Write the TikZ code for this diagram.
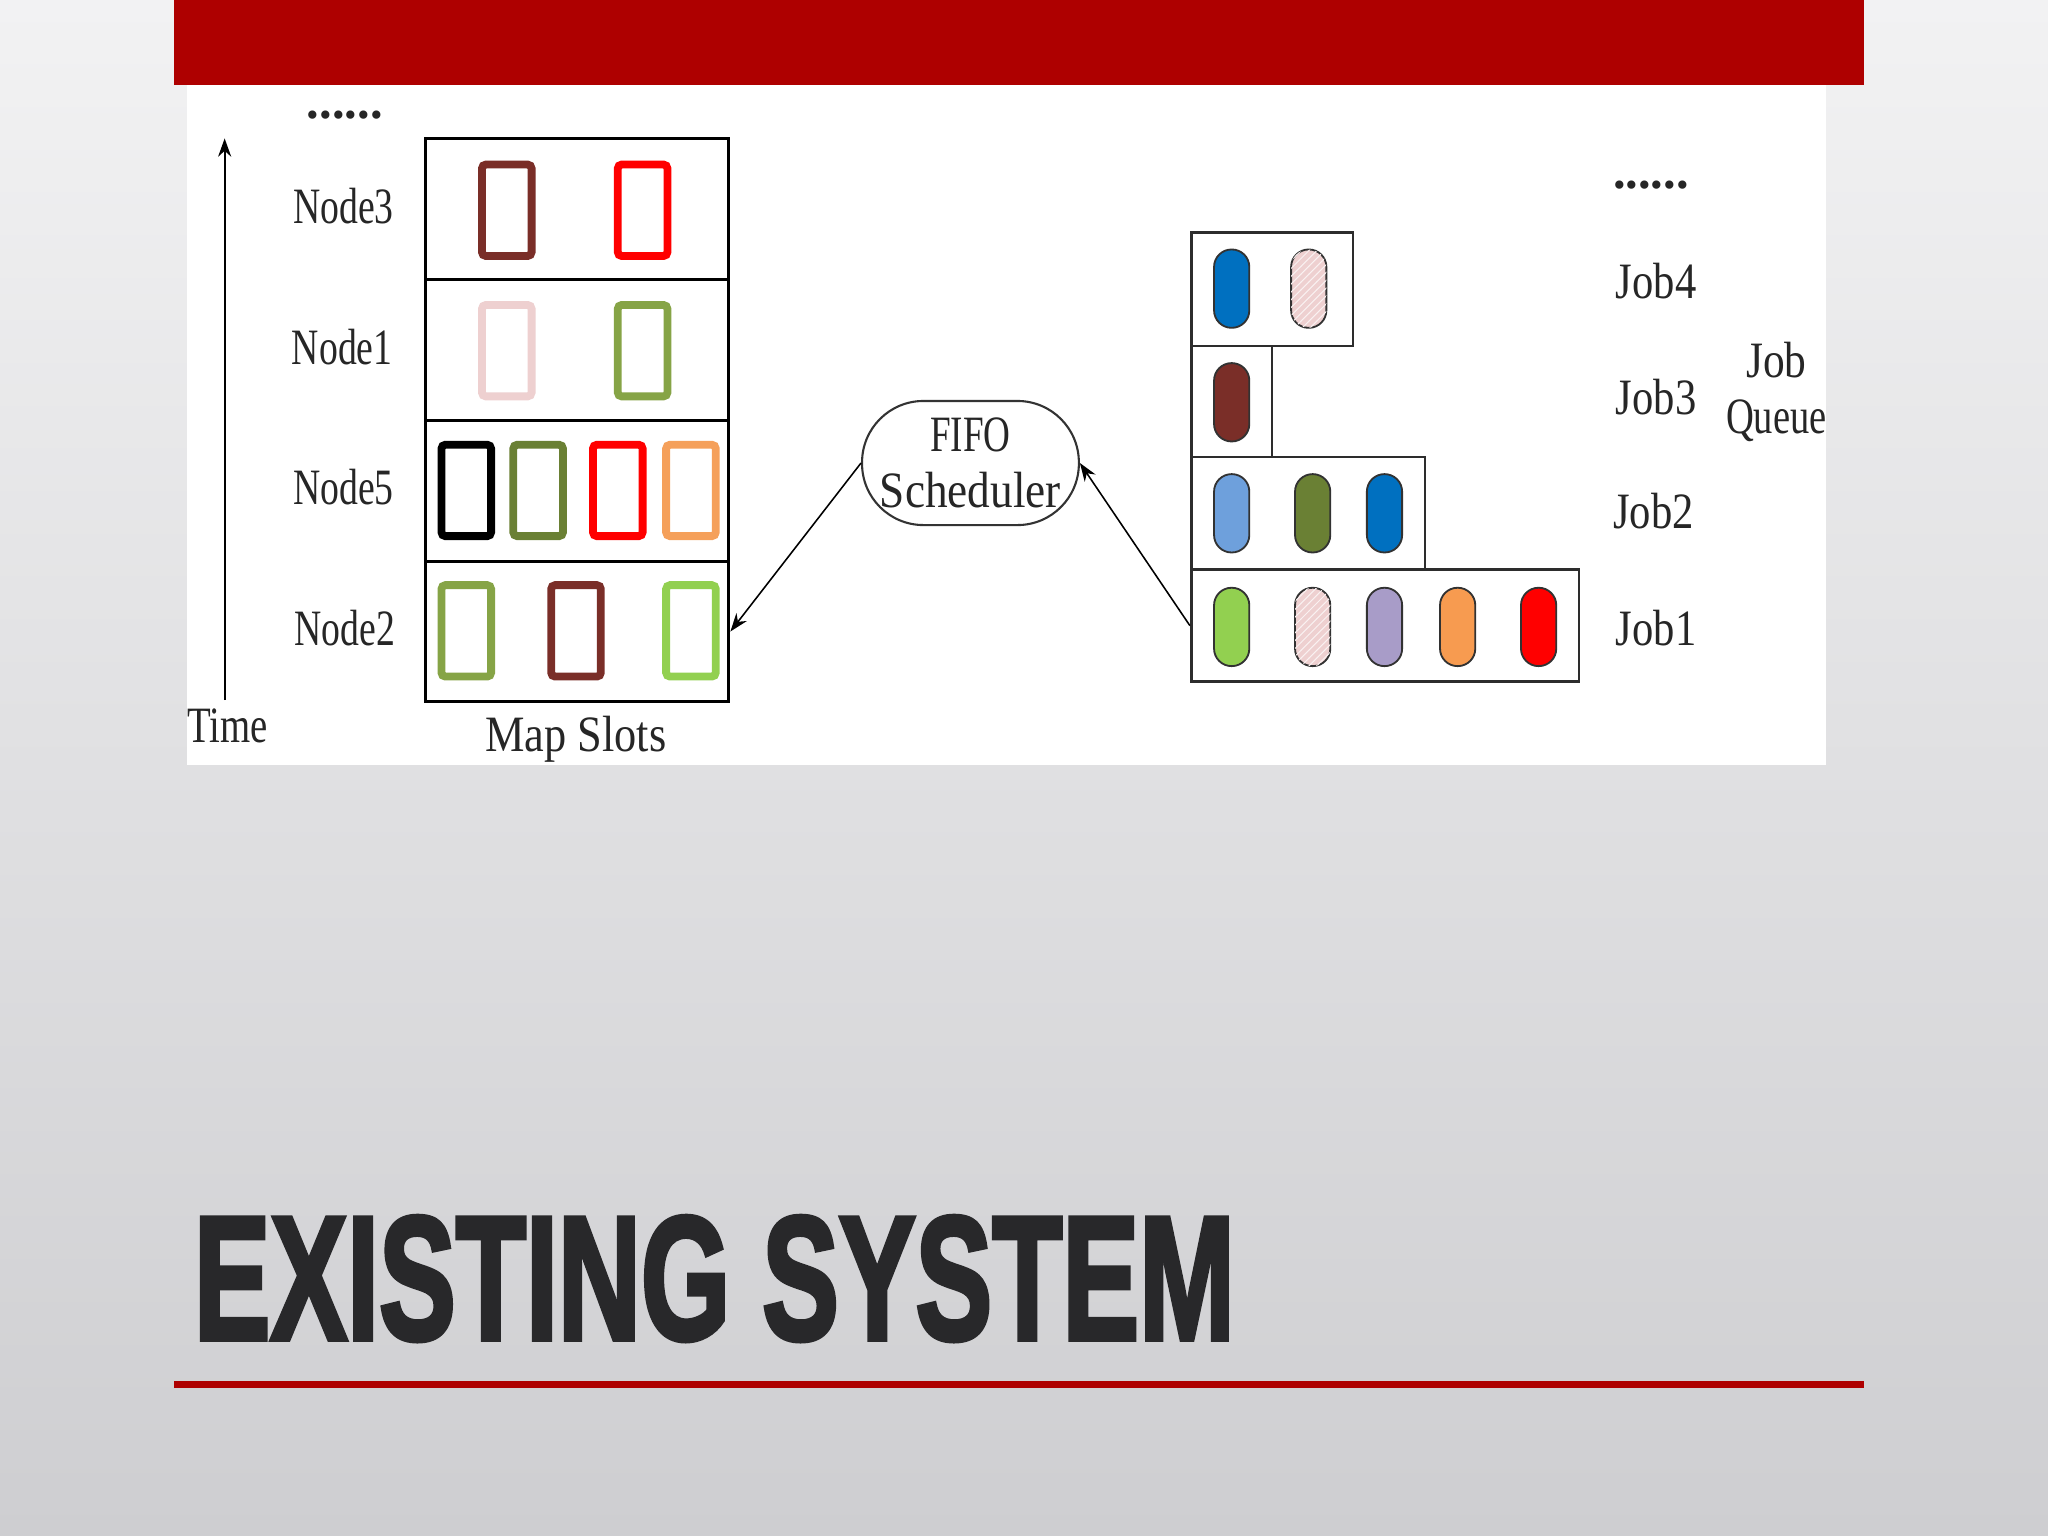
\documentclass[tikz,border=0pt]{standalone}
\usepackage{fontspec}
\setmainfont{Liberation Serif}
\newfontfamily\titlefont[RawFeature={embolden=3}]{Liberation Sans Bold}
\usetikzlibrary{arrows.meta,patterns}
\newlength\chw \setlength\chw{7.7pt}
\newcommand\ms[2]{\resizebox{#1\chw}{\height}{#2}}
\definecolor{barred}{RGB}{174,0,0}
\definecolor{titlec}{RGB}{40,40,42}
\definecolor{bgtop}{RGB}{242,242,243}
\definecolor{bgbot}{RGB}{206,206,209}
\definecolor{brownc}{RGB}{122,46,40}
\definecolor{redc}{RGB}{255,0,0}
\definecolor{pinkc}{RGB}{238,208,208}
\definecolor{olivec}{RGB}{134,164,70}
\definecolor{darkolive}{RGB}{106,128,52}
\definecolor{orangec}{RGB}{245,160,90}
\definecolor{lgreen}{RGB}{146,208,80}
\definecolor{bluec}{RGB}{0,112,192}
\definecolor{lblue}{RGB}{110,160,220}
\definecolor{lavc}{RGB}{168,156,200}
\definecolor{orangep}{RGB}{247,155,80}
\definecolor{pillline}{RGB}{50,50,50}
\definecolor{jobline}{RGB}{45,45,45}
\begin{document}
\begin{tikzpicture}[x=0.5pt,y=-0.5pt,
  lbl/.style={inner sep=0pt, font=\fontsize{19.5}{21.5}\selectfont, text=black!85},
  rowbox/.style={draw=black, line width=1.2pt, minimum width=116pt, minimum height=53.875pt, inner sep=0pt, fill=white},
  slotbox/.style={draw=#1, line width=3pt, rounded corners=1.5pt, minimum width=19pt, minimum height=35pt, inner sep=0pt},
  pill/.style={draw=pillline, line width=0.7pt, fill=#1, rounded corners=6.7pt, minimum width=13.5pt, minimum height=30pt, inner sep=0pt},
  hatch/.style={postaction={pattern=north east lines, pattern color=white!70!pinkc}},
  jobbox/.style={draw=jobline, line width=1pt, inner sep=0pt, fill=white},
  fifo/.style={draw=black!80, line width=0.8pt, rounded corners=23.5pt, minimum width=83pt, minimum height=47.5pt, inner sep=0pt, align=center},
  arr/.style={-{Stealth[length=7pt,width=5pt]}, line width=0.6pt, black}]
\useasboundingbox (0,0) rectangle (1568,1176);
% background
\shade[top color=bgtop, bottom color=bgbot] (0,0) rectangle (1568,1176);
\fill[barred] (133,0) rectangle (1427,65);
\fill[white] (143,65) rectangle (1398,586);
\fill[barred] (133,1057.5) rectangle (1427,1062.5);
\node[anchor=south west, inner sep=0pt, text=titlec] (title) at (148,1027)
  {\resizebox{398.5pt}{47pt}{\titlefont EXISTING SYSTEM}};
% left: time axis
\coordinate (tbot) at (172,536);
\coordinate (ttop) at (172,106);
\draw[-{Stealth[length=7pt,width=5pt]}, line width=0.7pt] (tbot) -- (ttop);
\node[lbl] (time) at (174,556) {\ms{4}{Time}};
\node[lbl] (dots1) at (264,88.5) {\resizebox{29pt}{\height}{\bfseries ......}};
% map slot rows
\node[rowbox] (row3) at (442,160) {};
\node[rowbox] (row1) at (442,268) {};
\node[rowbox] (row5) at (442,376) {};
\node[rowbox] (row2) at (442,483.5) {};
\node[lbl] (n3) at (263,158) {\ms{5}{Node3}};
\node[lbl] (n1) at (262,266) {\ms{5}{Node1}};
\node[lbl] (n5) at (263,373) {\ms{5}{Node5}};
\node[lbl] (n2) at (264,481) {\ms{5}{Node2}};
\node[lbl] (maps) at (441,566) {\ms{9}{Map Slots}};
% slots
\node[slotbox=brownc] (s31) at (388,161) {};
\node[slotbox=redc] (s32) at (492,161) {};
\node[slotbox=pinkc] (s11) at (388,268.5) {};
\node[slotbox=olivec] (s12) at (492,268.5) {};
\node[slotbox=black] (s51) at (357,375.5) {};
\node[slotbox=darkolive] (s52) at (412,375.5) {};
\node[slotbox=redc] (s53) at (473,375.5) {};
\node[slotbox=orangec] (s54) at (529,375.5) {};
\node[slotbox=olivec] (s21) at (357,483) {};
\node[slotbox=brownc] (s22) at (441,483) {};
\node[slotbox=lgreen] (s23) at (529,483) {};
% scheduler
\node[fifo, lbl, fifo] (fifo) at (743,354.5) {\ms{4}{FIFO}\\[0pt]\ms{9}{Scheduler}};
% job queue
\node[jobbox, minimum width=62pt, minimum height=43.5pt] (job4) at (974,221.5) {};
\node[jobbox, minimum width=31pt, minimum height=42.5pt] (job3) at (943,307.5) {};
\node[jobbox, minimum width=89.5pt, minimum height=43pt] (job2) at (1001.5,393) {};
\node[jobbox, minimum width=148.5pt, minimum height=43pt] (job1) at (1060.5,479) {};
\node[pill=bluec] (p41) at (943,221) {};
\node[pill=pinkc, hatch] (p42) at (1002,221) {};
\node[pill=brownc] (p31) at (943,308) {};
\node[pill=lblue] (p21) at (943,393) {};
\node[pill=darkolive] (p22) at (1005,393) {};
\node[pill=bluec] (p23) at (1060,393) {};
\node[pill=lgreen] (p11) at (943,480) {};
\node[pill=pinkc, hatch] (p12) at (1005,480) {};
\node[pill=lavc] (p13) at (1060,480) {};
\node[pill=orangep] (p14) at (1116,480) {};
\node[pill=redc] (p15) at (1178,480) {};
\node[lbl] (dots2) at (1264,142) {\resizebox{29pt}{\height}{\bfseries ......}};
\node[lbl] (l4) at (1268,215) {\ms{4}{Job4}};
\node[lbl] (l3) at (1268,304) {\ms{4}{Job3}};
\node[lbl] (l2) at (1266,391) {\ms{4}{Job2}};
\node[lbl] (l1) at (1268,481) {\ms{4}{Job1}};
\node[lbl, align=center] (jq) at (1360,300) {\ms{3}{Job}\\\ms{5}{Queue}};
% connectors
\draw[arr] (fifo.west) -- (row2.east);
\draw[arr] (job1.west) -- (fifo.east);
\end{tikzpicture}
\end{document}
